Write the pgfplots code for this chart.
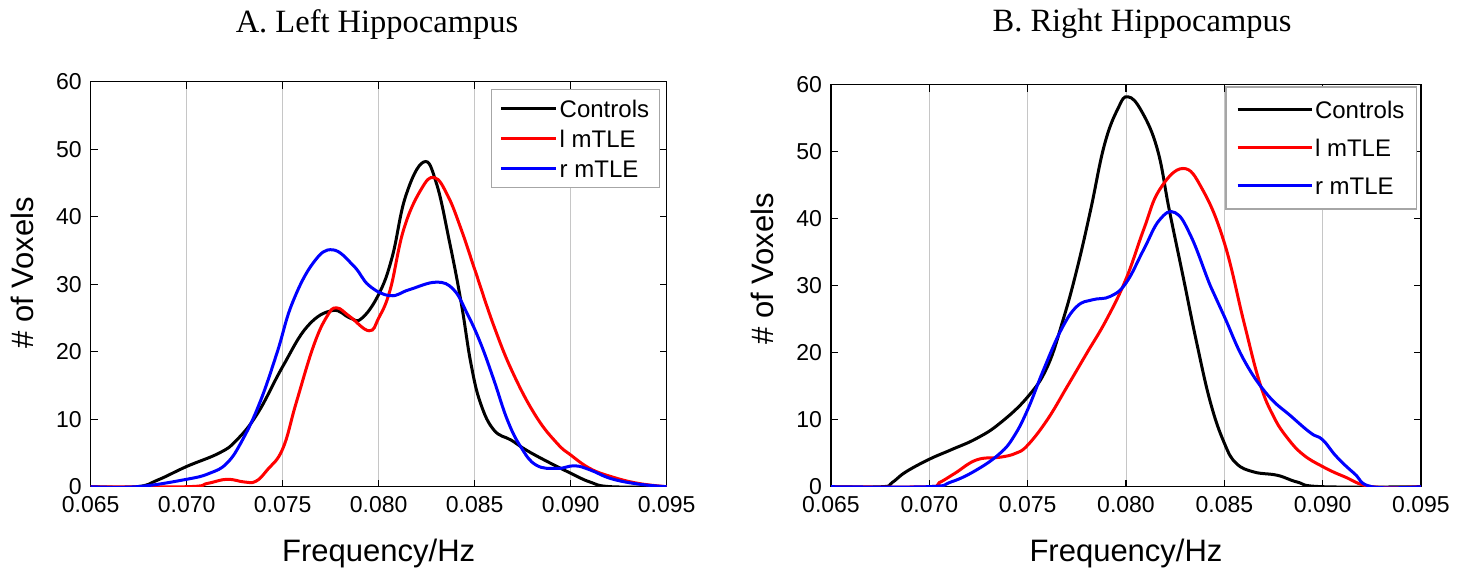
\documentclass[border=0pt]{standalone}
\usepackage{fontspec}
\setmainfont{Liberation Sans}
\newfontfamily\seriffont{Liberation Serif}
\usepackage{pgfplots}
\pgfplotsset{compat=1.18}

\pgfplotsset{
  hippo legend line/.initial=27.5pt,
  hippo/.style={
    scale only axis,
    xmin=0.065, xmax=0.095, ymin=0, ymax=60,
    scaled x ticks=false,
    xtick={0.065,0.07,0.075,0.08,0.085,0.09,0.095},
    xticklabels={0.065,0.070,0.075,0.080,0.085,0.090,0.095},
    ytick={0,10,...,60},
    tick align=inside, tick pos=both,
    major tick length=3.5pt,
    every tick/.style={black, line width=0.7pt},
    axis line style={line width=0.7pt},
    xmajorgrids, major grid style={gray!45, line width=0.4pt},
    ticklabel style={font=\fontsize{11.5}{13}\selectfont},
    xticklabel style={yshift=-1.5pt},
    yticklabel style={xshift=-1pt},
    /pgf/number format/assume math mode=true,
    every axis x label/.style={at={(axis description cs:0.5,-0.185)}, anchor=base,
      font=\fontsize{15.5}{18}\selectfont},
    every axis plot/.append style={line width=1.5pt, smooth, tension=0.7},
    legend cell align=left,
    legend image code/.code={\draw[##1] (0pt,0pt) -- (\pgfkeysvalueof{/pgfplots/hippo legend line},0pt);},
    legend style={at={(axis description cs:1,1)}, anchor=north east,
      draw=gray!70, line width=0.6pt, inner sep=4pt,
      font=\fontsize{12}{14}\selectfont,
      nodes={inner sep=1pt, text height=9pt, text depth=0pt}},
  }
}

\begin{document}
\begin{tikzpicture}
\path[use as bounding box] (0,0) rectangle (733pt,284.5pt);

\node[font=\seriffont\fontsize{16.25}{19}\selectfont, anchor=base] at (188.5pt,268pt) {A. Left Hippocampus};
\node[font=\seriffont\fontsize{16.25}{19}\selectfont, anchor=base] at (571pt,268.5pt) {B. Right Hippocampus};

% A: left hippocampus
\begin{axis}[hippo,
  at={(45.35pt,41.15pt)}, anchor=south west,
  width=288pt, height=202.5pt,
  xlabel={Frequency/Hz}, ylabel={\# of Voxels},
  every axis y label/.style={at={(axis description cs:-0.119,0.528)}, rotate=90, anchor=center,
    font=\fontsize{15.5}{18}\selectfont},
  legend style={xshift=-3.5pt, yshift=-3.5pt, row sep=4pt},
]
\addplot[black] coordinates {(0.065,0)(0.0674,0)(0.0685,1.0)(0.070,3.0)(0.0717,5.0)(0.0726,6.9)(0.0737,10.9)(0.075,17.8)(0.0763,23.8)(0.0776,26.1)(0.0785,25.0)(0.0791,24.9)(0.080,28.5)(0.0807,34)(0.0814,43)(0.08234,48.1)(0.0830,45)(0.0837,36.1)(0.0843,27.2)(0.0848,18.3)(0.0853,12.4)(0.0860,8.4)(0.0869,6.9)(0.0877,5.4)(0.0888,3.7)(0.090,2.0)(0.091,0.7)(0.0921,0)(0.095,0)};
\addlegendentry{Controls}
\addplot[red] coordinates {(0.065,0)(0.070,0)(0.0711,0.5)(0.0721,1.1)(0.0730,0.7)(0.0736,0.8)(0.0742,2.5)(0.075,5.6)(0.0757,12.4)(0.0766,20.8)(0.0773,25.2)(0.0778,26.5)(0.0785,25.2)(0.0795,23.1)(0.080,25.0)(0.0806,29.2)(0.0813,38.1)(0.0822,44)(0.0829,45.8)(0.0836,43.1)(0.0843,38.1)(0.085,32.2)(0.086,23.8)(0.087,16.8)(0.0882,10.4)(0.0893,6.4)(0.090,4.7)(0.091,2.7)(0.0921,1.5)(0.0935,0.5)(0.095,0)};
\addlegendentry{l mTLE}
\addplot[blue] coordinates {(0.065,0)(0.0674,0)(0.070,1.1)(0.0712,2.0)(0.0721,3.5)(0.0729,6.9)(0.0738,12.4)(0.0747,19.8)(0.0755,27.2)(0.0766,33.2)(0.0776,35.1)(0.0787,32.7)(0.0795,29.8)(0.0806,28.3)(0.0816,29.2)(0.0830,30.3)(0.0839,29.2)(0.0846,25.7)(0.0853,21.3)(0.0860,15.8)(0.0867,9.9)(0.0874,5.9)(0.0882,3.2)(0.0893,2.7)(0.0902,3.1)(0.0910,2.5)(0.0921,1.2)(0.0935,0.4)(0.095,0)};
\addlegendentry{r mTLE}
\end{axis}

% B: right hippocampus
\begin{axis}[hippo,
  at={(415.5pt,41.15pt)}, anchor=south west,
  width=295pt, height=201pt,
  xlabel={Frequency/Hz}, ylabel={\# of Voxels},
  every axis y label/.style={at={(axis description cs:-0.117,0.542)}, rotate=90, anchor=center,
    font=\fontsize{15.5}{18}\selectfont},
  hippo legend line=37pt,
  legend style={xshift=-2pt, yshift=-0.8pt, row sep=8pt, inner xsep=5pt, inner ysep=6pt},
]
\addplot[black] coordinates {(0.065,0)(0.0676,0)(0.0681,0.6)(0.0688,2.2)(0.070,4.1)(0.0711,5.5)(0.0724,7.2)(0.0736,9.5)(0.075,13.4)(0.076,17.9)(0.0768,24.9)(0.0775,32.4)(0.0782,41.3)(0.0789,51)(0.0796,56.5)(0.0801,58.2)(0.0808,56)(0.0816,50.3)(0.0822,41.3)(0.0829,31.4)(0.0836,21.4)(0.0843,12.5)(0.085,6.5)(0.0856,3.5)(0.0865,2.2)(0.0877,1.7)(0.0887,0.7)(0.090,0)(0.095,0)};
\addlegendentry{Controls}
\addplot[red] coordinates {(0.065,0)(0.0699,0)(0.0705,0.6)(0.0713,2.0)(0.0724,4.0)(0.0736,4.4)(0.0744,5.0)(0.075,6.2)(0.076,10)(0.077,14.9)(0.078,19.9)(0.079,24.9)(0.080,31)(0.0809,38.4)(0.0817,44.3)(0.0829,47.5)(0.0839,44.3)(0.085,36.4)(0.086,24.5)(0.0868,15.5)(0.0875,10.5)(0.0882,7.3)(0.0890,4.8)(0.090,3.0)(0.0911,1.5)(0.0925,0)(0.095,0)};
\addlegendentry{l mTLE}
\addplot[blue] coordinates {(0.065,0)(0.0699,0)(0.0711,0.7)(0.0724,2.5)(0.0736,5.0)(0.0743,7.5)(0.075,11.5)(0.0758,17.4)(0.0767,23.4)(0.0775,26.9)(0.0783,27.9)(0.0792,28.4)(0.080,30.4)(0.0809,35.4)(0.0817,39.8)(0.0825,40.9)(0.0833,37.4)(0.0843,29.9)(0.085,25.4)(0.086,18.9)(0.0872,13.7)(0.0884,10.5)(0.0894,8.0)(0.090,7.0)(0.0907,4.5)(0.0916,2.0)(0.0925,0)(0.095,0)};
\addlegendentry{r mTLE}
\end{axis}
\end{tikzpicture}
\end{document}
